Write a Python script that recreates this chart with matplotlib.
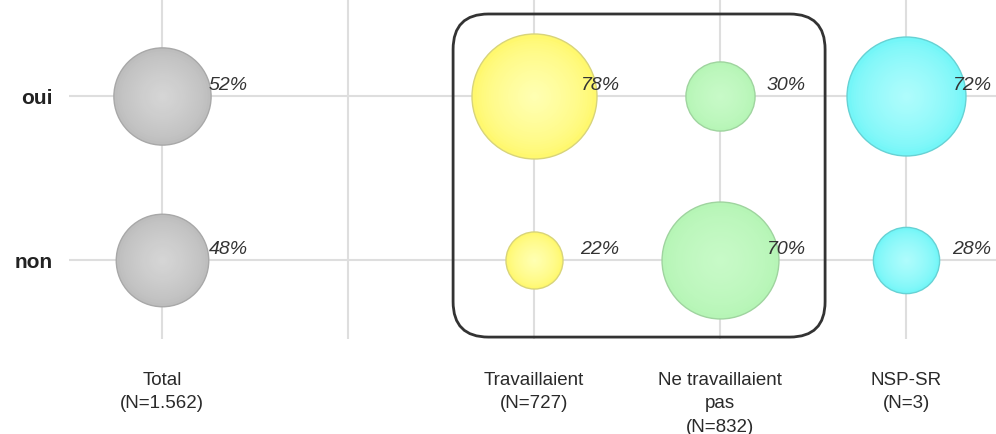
import matplotlib
matplotlib.use("Agg")
import matplotlib.pyplot as plt
from matplotlib.patches import FancyBboxPatch
import matplotlib.colors as mcolors
import numpy as np

# donnees
categories = ["Total\n(N=1.562)", "", "Travaillaient\n(N=727)",
              "Ne travaillaient\npas\n(N=832)", "NSP-SR\n(N=3)"]
rows = ["non", "oui"]
oui = [52, None, 78, 30, 72]
non = [48, None, 22, 70, 28]
colors = ["#bdbdbd", None, "#fff86e", "#b6f5b6", "#74f6f8"]
centers = ["#d6d6d6", None, "#ffffb4", "#c8fac8", "#b0fcfc"]
edges = ["#a8a8a8", None, "#d8d47a", "#9fd49f", "#66d2d4"]

plt.rcParams["font.family"] = ["Liberation Sans", "DejaVu Sans"]

fig = plt.figure(figsize=(9.96, 4.35), dpi=100)
ax = fig.add_axes([69 / 996, 95 / 435, 927 / 996, 340 / 435])
ax.set_xlim(-0.5, (996 - 162) / 186)
ax.set_ylim(-79 / 164, 261 / 164)


def radius_px(v):
    return 62.5 * (v / 78) ** 0.62


def bubble(x, y, v, col, cen, edge):
    r = radius_px(v) * 0.72  # points
    ax.scatter([x], [y], s=(2 * r) ** 2, color=col, edgecolor=edge,
               linewidth=1.0, zorder=3)
    c0 = np.array(mcolors.to_rgb(col))
    c1 = np.array(mcolors.to_rgb(cen))
    n = 25
    for i in range(1, n):
        f = i / n
        rr = r * (1 - f) * 0.97
        cc = c0 + (c1 - c0) * f ** 0.7
        ax.scatter([x], [y], s=(2 * rr) ** 2, color=cc, linewidth=0, zorder=3)


for i in range(len(categories)):
    for y, vals in ((1, oui), (0, non)):
        v = vals[i]
        if v is None:
            continue
        bubble(i, y, v, colors[i], centers[i], edges[i])
        ax.text(i + 0.25, y + 0.07, f"{v}%", fontsize=14, style="italic",
                color="#333333", va="center", ha="left", zorder=4)

# grille
for x in range(len(categories)):
    ax.axvline(x, color="#dedede", lw=1.5, zorder=1)
for y in (0, 1):
    ax.axhline(y, color="#dedede", lw=1.5, zorder=1)

# cadre arrondi autour des deux groupes
asp = 186 / 164
box = FancyBboxPatch((1.565, -0.47), 2.0, 1.97,
                     boxstyle="round,pad=0,rounding_size=0.19",
                     mutation_aspect=asp, fill=False, edgecolor="#333333",
                     lw=2, zorder=5)
ax.add_patch(box)

ax.set_xticks(range(len(categories)))
ax.set_xticklabels(categories, fontsize=13.5, linespacing=1.5, color="#2a2a2a",
                   va="top")
ax.set_yticks([0, 1])
ax.set_yticklabels(rows, fontsize=15, fontweight="bold", color="#222222")
ax.tick_params(axis="x", length=0, pad=23)
ax.tick_params(axis="y", length=0, pad=12)
for s in ax.spines.values():
    s.set_visible(False)

fig.savefig("out.png", dpi=100)
